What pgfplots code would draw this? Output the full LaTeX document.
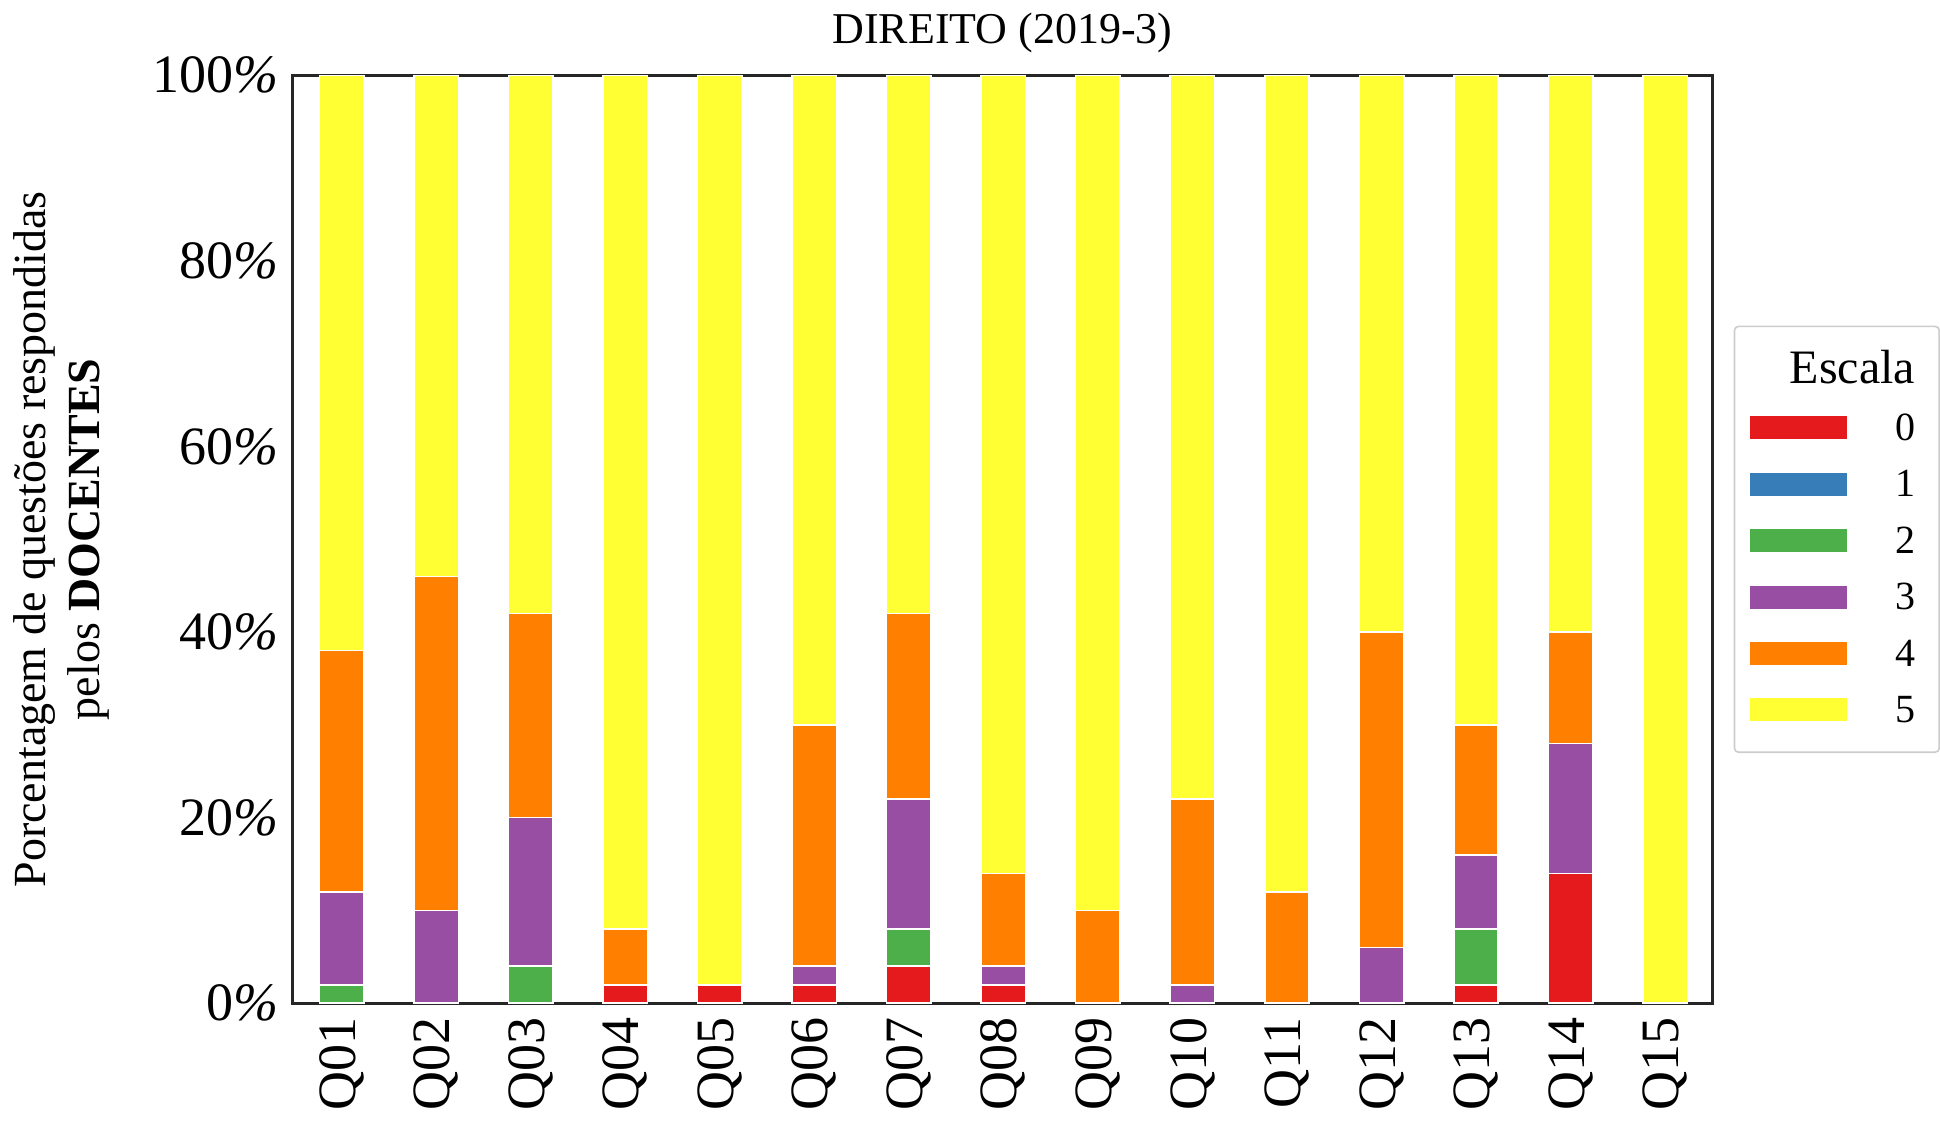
\documentclass[border=0pt]{standalone}
\usepackage{pgfplots}
\pgfplotsset{compat=1.18}
\usepackage{fontspec}
\setmainfont{Liberation Serif}
\definecolor{c0}{HTML}{E41A1C}
\definecolor{c1}{HTML}{377EB8}
\definecolor{c2}{HTML}{4DAF4A}
\definecolor{c3}{HTML}{984EA3}
\definecolor{c4}{HTML}{FF7F00}
\definecolor{c5}{HTML}{FFFF33}
\begin{document}
\begin{tikzpicture}
\begin{axis}[
  width=355pt, height=232pt, scale only axis,
  ybar stacked, bar width=0.47,
  xmin=-0.52, xmax=14.5, ymin=0, ymax=100,
  xtick={0,...,14},
  xticklabels={Q01,Q02,Q03,Q04,Q05,Q06,Q07,Q08,Q09,Q10,Q11,Q12,Q13,Q14,Q15},
  x tick label style={rotate=90, anchor=east, font=\fontsize{13.5}{15}\selectfont},
  ytick={0,20,40,60,80,100},
  yticklabels={0{\itshape\%},20{\itshape\%},40{\itshape\%},60{\itshape\%},80{\itshape\%},100{\itshape\%}},
  y tick label style={font=\fontsize{13.5}{15}\selectfont},
  /pgf/number format/assume math mode=true,
  tick style={draw=none},
  axis line style={line width=0.8pt, black!85},
  title={DIREITO (2019-3)}, title style={font=\fontsize{11}{13}\selectfont, yshift=-4pt},
  ylabel={\shortstack{Porcentagem de questões respondidas\\pelos \textbf{DOCENTES}}},
  ylabel style={font=\fontsize{11.5}{12}\selectfont, yshift=4pt},
  every axis plot/.append style={draw=white, line width=0.4pt},
  legend style={at={(1.015,0.5)}, anchor=west, font=\fontsize{10}{12}\selectfont,
    draw=black!20, rounded corners=1pt, row sep=2pt, inner sep=4pt},
  legend cell align=right,
  legend image code/.code={\fill[#1, draw=none, sharp corners] (0cm,-0.08cm) rectangle (0.85cm,0.12cm);},
]
\addlegendimage{empty legend}
\addlegendentry{\hspace{-1.2cm}\fontsize{12}{14}\selectfont Escala}
\addplot[fill=c0] coordinates {(0,0)(1,0)(2,0)(3,2)(4,2)(5,2)(6,4)(7,2)(8,0)(9,0)(10,0)(11,0)(12,2)(13,14)(14,0)};
\addlegendentry{\quad 0}
\addplot[fill=c1] coordinates {(0,0)(1,0)(2,0)(3,0)(4,0)(5,0)(6,0)(7,0)(8,0)(9,0)(10,0)(11,0)(12,0)(13,0)(14,0)};
\addlegendentry{\quad 1}
\addplot[fill=c2] coordinates {(0,2)(1,0)(2,4)(3,0)(4,0)(5,0)(6,4)(7,0)(8,0)(9,0)(10,0)(11,0)(12,6)(13,0)(14,0)};
\addlegendentry{\quad 2}
\addplot[fill=c3] coordinates {(0,10)(1,10)(2,16)(3,0)(4,0)(5,2)(6,14)(7,2)(8,0)(9,2)(10,0)(11,6)(12,8)(13,14)(14,0)};
\addlegendentry{\quad 3}
\addplot[fill=c4] coordinates {(0,26)(1,36)(2,22)(3,6)(4,0)(5,26)(6,20)(7,10)(8,10)(9,20)(10,12)(11,34)(12,14)(13,12)(14,0)};
\addlegendentry{\quad 4}
\addplot[fill=c5] coordinates {(0,62)(1,54)(2,58)(3,92)(4,98)(5,70)(6,58)(7,86)(8,90)(9,78)(10,88)(11,60)(12,70)(13,60)(14,100)};
\addlegendentry{\quad 5}
\end{axis}
\end{tikzpicture}
\end{document}
